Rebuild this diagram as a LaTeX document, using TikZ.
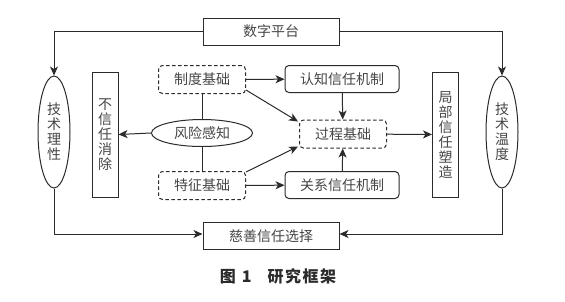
\documentclass[tikz,border=0pt]{standalone}
\usepackage{fontspec}
\usepackage{tikz}
\usetikzlibrary{arrows.meta,positioning,shapes.geometric}
\newfontfamily\cjk{Noto Sans CJK SC}
\definecolor{frameInk}{HTML}{2B2B2B}
\definecolor{frameText}{HTML}{454545}

\begin{document}
\begin{tikzpicture}[
  x=1pt, y=-1pt,
  font=\cjk\fontsize{14}{15}\selectfont,
  box/.style={draw=frameInk, line width=1pt, minimum width=136pt, minimum height=27pt, inner sep=0pt, text=frameText},
  dbox/.style={draw=frameInk, dash pattern=on 3.5pt off 2.5pt, line width=1pt, rounded corners=4pt, minimum width=87pt, minimum height=28pt, inner sep=0pt, text=frameText},
  rbox/.style={draw=frameInk, line width=1pt, rounded corners=4pt, minimum width=114pt, minimum height=27pt, inner sep=0pt, text=frameText},
  vbox/.style={draw=frameInk, line width=1pt, minimum width=26pt, minimum height=125pt, inner sep=0pt, align=center, text=frameText},
  oval/.style={draw=frameInk, ellipse, line width=1pt, inner sep=0pt, align=center, text=frameText},
  arrow/.style={-{Stealth[length=9pt, width=8pt, inset=2.5pt]}, line width=1pt, draw=frameInk},
  link/.style={line width=1pt, draw=frameInk}
]
  \useasboundingbox (0,0) rectangle (565,301);

  \node[box] (plat) at (271,31.5) {数字平台};
  \node[box] (choice) at (271,236) {慈善信任选择};

  \node[oval, minimum width=32pt, minimum height=112pt] (rat) at (54,132) {技\\术\\理\\性};
  \node[oval, minimum width=32pt, minimum height=112pt] (warm) at (502,132) {技\\术\\温\\度};

  \node[vbox] (distrust) at (105,134.5) {不\\信\\任\\消\\除};
  \node[vbox] (local) at (445.5,134.5) {局\\部\\信\\任\\塑\\造};

  \node[dbox] (inst) at (202,79.5) {制度基础};
  \node[oval, minimum width=101pt, minimum height=27pt] (risk) at (202,133) {风险感知};
  \node[dbox] (feat) at (202,185.5) {特征基础};

  \node[rbox] (cog) at (342,79) {认知信任机制};
  \node[dbox] (proc) at (343,134) {过程基础};
  \node[rbox] (rel) at (342,185) {关系信任机制};

  \draw[arrow] (plat.west) -| (rat.north);
  \draw[arrow] (plat.east) -| (warm.north);
  \draw[arrow] (rat.south) |- ([yshift=2pt]choice.west);
  \draw[arrow] (warm.south) |- ([yshift=2pt]choice.east);

  \draw[link] (inst) -- (risk);
  \draw[link] (risk) -- (feat);
  \draw[arrow] (risk.west) -- (distrust.east);

  \draw[arrow] (inst) -- (cog);
  \draw[arrow] (feat) -- (rel);
  \draw[arrow] ([yshift=4pt]inst.south east) -- ([shift={(-1pt,-2pt)}]proc.north west);
  \draw[arrow] ([yshift=-1pt]feat.north east) -- ([shift={(-1pt,2pt)}]proc.south west);
  \draw[arrow] (cog) -- (proc);
  \draw[arrow] (rel) -- (proc);
  \draw[arrow] (proc) -- (local);

  \node[font=\cjk\bfseries\fontsize{16}{18}\selectfont, text=frameInk] (caption) at (278,276)
    {图\kern6pt 1\kern16pt 研\kern1.5pt 究\kern1.5pt 框\kern1.5pt 架};
\end{tikzpicture}
\end{document}
